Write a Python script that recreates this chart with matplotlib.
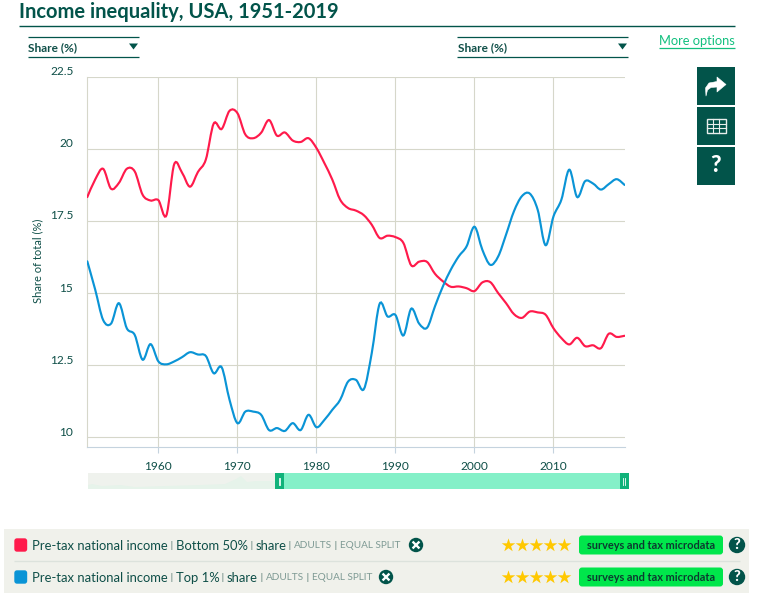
import numpy as np
import matplotlib
matplotlib.use("Agg")
import matplotlib.pyplot as plt
from matplotlib.path import Path
from matplotlib.patches import PathPatch, Rectangle, FancyBboxPatch, Circle, Polygon

plt.rcParams['font.family'] = ['Lato', 'DejaVu Sans']

title = "Income inequality, USA, 1951-2019"
years = list(range(1951, 2020))
bottom50 = [18.33,18.94,19.31,18.62,18.82,19.31,19.22,18.41,18.21,18.22,17.69,19.47,19.17,18.69,19.20,19.63,
            20.88,20.69,21.32,21.24,20.50,20.37,20.56,21.00,20.46,20.57,20.29,20.24,20.37,20.03,19.51,18.94,
            18.24,17.95,17.86,17.70,17.37,16.91,16.99,16.94,16.74,15.96,16.09,16.08,15.67,15.41,15.22,15.23,
            15.17,15.07,15.37,15.38,15.00,14.65,14.27,14.14,14.36,14.33,14.25,13.78,13.44,13.22,13.45,13.16,
            13.19,13.09,13.59,13.48,13.52]
top1 = [16.10,15.12,14.07,13.94,14.65,13.78,13.55,12.69,13.23,12.63,12.53,12.63,12.78,12.95,12.87,12.82,
        12.22,12.43,11.30,10.49,10.89,10.89,10.78,10.25,10.32,10.22,10.49,10.25,10.78,10.35,10.60,10.95,
        11.30,11.93,11.99,11.67,12.92,14.63,14.19,14.24,13.53,14.46,13.94,13.80,14.54,15.23,15.81,16.27,
        16.62,17.30,16.50,15.98,16.27,17.03,17.84,18.36,18.45,17.89,16.66,17.66,18.24,19.28,18.33,18.88,
        18.80,18.59,18.78,18.95,18.75]
y_ticks = [10, 12.5, 15, 17.5, 20, 22.5]
y_tick_labels = ["10", "12.5", "15", "17.5", "20", "22.5"]
x_ticks = [1960, 1970, 1980, 1990, 2000, 2010]

DARK = "#02544A"
TICK = "#0F4F48"
GRID = "#D6D7CA"
RED = "#FF1A4B"
BLUE = "#0A94D6"
W, H = 768, 606

fig = plt.figure(figsize=(W/100, H/100), dpi=100, facecolor="white")


def smooth(ax, xs, ys, color):
    """Catmull-Rom curve through the values, as cubic Bezier segments."""
    xs = np.asarray(xs, float)
    ys = np.asarray(ys, float)
    verts = [(xs[0], ys[0])]
    codes = [Path.MOVETO]
    n = len(xs)
    for i in range(n - 1):
        i0, i3 = max(i - 1, 0), min(i + 2, n - 1)
        c1 = (xs[i] + (xs[i + 1] - xs[i0]) / 6, ys[i] + (ys[i + 1] - ys[i0]) / 6)
        c2 = (xs[i + 1] - (xs[i3] - xs[i]) / 6, ys[i + 1] - (ys[i3] - ys[i]) / 6)
        verts += [c1, c2, (xs[i + 1], ys[i + 1])]
        codes += [Path.CURVE4] * 3
    ax.add_patch(PathPatch(Path(verts, codes), fc="none", ec=color, lw=1.55, zorder=5, capstyle="round"))


# ---------- plot area ----------
left, right, top, bottom = 87.3, 624.6, 76.8, 447.3
ax = fig.add_axes([left / W, 1 - bottom / H, (right - left) / W, (bottom - top) / H])
ax.set_xlim(1951, 2019)
ax.set_ylim(10 - (bottom - 437.3) / 28.8, 22.5)
ax.set_facecolor("none")
for s in ("top", "right"):
    ax.spines[s].set_visible(False)
ax.spines["left"].set_color(GRID)
ax.spines["bottom"].set_color("#C5D3DE")
ax.spines["left"].set_linewidth(0.8)
ax.spines["bottom"].set_linewidth(0.8)
ax.set_xticks(x_ticks)
ax.set_xticklabels([str(v) for v in x_ticks], fontsize=8.6, color=TICK)
ax.tick_params(axis="x", length=4, width=0.8, color="#C5D3DE", pad=6)
ax.set_yticks(y_ticks)
ax.set_yticklabels([])
ax.tick_params(axis="y", length=0)
ax.grid(True, color=GRID, lw=0.8)
ax.set_axisbelow(True)
for v, lab in zip(y_ticks, y_tick_labels):
    ax.annotate(lab, xy=(1951, v), xytext=(-14, 5), textcoords="offset pixels", ha="right", va="center",
                fontsize=8.6, color=TICK, annotation_clip=False)
smooth(ax, years, bottom50, RED)
smooth(ax, years, top1, BLUE)

# ---------- page furniture, in pixel coordinates ----------
ov = fig.add_axes([0, 0, 1, 1])
ov.set_xlim(0, W)
ov.set_ylim(H, 0)
ov.axis("off")
ov.patch.set_alpha(0)
rend = fig.canvas.get_renderer()


def hline(x0, x1, y, color=DARK, lw=1.0):
    ov.plot([x0, x1], [y, y], color=color, lw=lw, solid_capstyle="butt")


def chain(x, y, parts):
    for s, c, fs, in parts:
        t = ov.text(x, y, s, color=c, fontsize=fs, va="center", ha="left")
        x = t.get_window_extent(rend).x1
    return x


ov.text(19, 11.5, title, fontsize=14.5, fontweight="bold", color=DARK, va="center", ha="left")
hline(19, 735, 26, lw=1.0)

ov.text(37.5, 261, "Share of total (%)", rotation=90, fontsize=8, color=TICK, ha="center", va="center")

for x0, x1 in ((28, 139), (457, 628)):
    hline(x0, x1, 37, lw=0.9)
    hline(x0, x1, 56.5, lw=0.9)
    ov.text(x0 + 0.5, 47.5, "Share (%)", fontsize=8.6, fontweight="bold", color=TICK, va="center", ha="left")
    ov.add_patch(Polygon([(x1 - 10, 43.5), (x1 - 1, 43.5), (x1 - 5.5, 49.5)], fc=DARK, ec="none"))

ov.text(735, 41, "More options", fontsize=9.3, color="#12C07F", va="center", ha="right")
hline(659, 735, 47.5, color="#12C07F", lw=0.9)

# side buttons
for y0 in (67, 107, 147):
    ov.add_patch(Rectangle((697, y0), 38, 38, fc=DARK, ec="none"))
arrow = [(706, 96), (705.5, 88), (709, 83), (717, 81.5), (717, 77), (726, 84.5), (717, 92), (717, 87), (711, 87.5), (707.5, 90)]
ov.add_patch(Polygon(arrow, fc="white", ec="white", lw=0.4, joinstyle="round"))
ov.add_patch(Rectangle((706.5, 119), 19, 14, fc="none", ec="#E8EEEC", lw=1.0))
for xx in (712.8, 719.2):
    ov.plot([xx, xx], [119, 133], color="#E8EEEC", lw=0.8)
for yy in (123.5, 128.2):
    ov.plot([706.5, 725.5], [yy, yy], color="#E8EEEC", lw=0.8)
ov.text(716, 166, "?", fontsize=16.5, fontweight="black", color="white", ha="center", va="center")

# scrollbar
ov.add_patch(Rectangle((88, 473), 187, 16, fc="#EFF2ED", ec="none"))
ov.add_patch(Polygon([(88, 489), (88, 485), (92, 484), (102, 486), (120, 485), (135, 487), (165, 486), (200, 485),
                      (225, 484), (236, 479), (241, 476), (247, 482), (256, 481), (275, 481), (275, 489)],
                     fc="#E6F3EA", ec="none"))
ov.add_patch(Rectangle((275, 473), 353, 16, fc="#84F0C8", ec="none"))
for x0 in (275, 619.5):
    ov.add_patch(Rectangle((x0, 473), 9, 16, fc="#10B27A", ec="none"))
    for dx in (3.6, 5.2):
        ov.plot([x0 + dx, x0 + dx], [477.5, 484.5], color="white", lw=0.6)

# legend panel
ov.add_patch(Rectangle((4, 529), 745, 64, fc="#F0F1EB", ec="none"))
hline(14, 740, 560.5, color="#DCE2DC", lw=1)
rows = [(545, RED, "Bottom 50%", 416), (577, BLUE, "Top 1%", 386)]
for y, col, name, xc in rows:
    ty = y + 0.8
    ov.add_patch(FancyBboxPatch((15, y - 6), 11.5, 12, boxstyle="round,pad=0,rounding_size=2", fc=col, ec=col, lw=1))
    end = chain(32, ty, [("Pre-tax national income", TICK, 9.35), (" | ", "#5F8079", 7.4), (name, TICK, 9.35),
                         (" | ", "#5F8079", 7.4), ("share", TICK, 9.35), (" | ", "#5F8079", 7.4),
                         ("ADULTS", "#7E9A94", 7.2), (" | ", "#5F8079", 7.4), ("EQUAL SPLIT", "#7E9A94", 7.2)])
    ov.add_patch(Circle((xc, y), 7.2, fc=DARK, ec="none"))
    ov.plot([xc - 2.6, xc + 2.6], [y - 2.6, y + 2.6], color="white", lw=1.7)
    ov.plot([xc - 2.6, xc + 2.6], [y + 2.6, y - 2.6], color="white", lw=1.7)
    ov.scatter([508, 522, 536, 550, 564], [y] * 5, marker="*", s=105, color="#FFC800", linewidths=0)
    ov.add_patch(FancyBboxPatch((579, y - 9.5), 144, 19, boxstyle="round,pad=0,rounding_size=3", fc="#00E64B", ec="none"))
    ov.text(651, y + 0.3, "surveys and tax microdata", fontsize=7.9, fontweight="bold", color="#0C3B30", ha="center", va="center")
    ov.add_patch(Circle((737, y), 8.2, fc=DARK, ec="none"))
    ov.text(737, y + 0.2, "?", fontsize=10.5, fontweight="black", color="white", ha="center", va="center")

fig.savefig("out.png", dpi=100)
